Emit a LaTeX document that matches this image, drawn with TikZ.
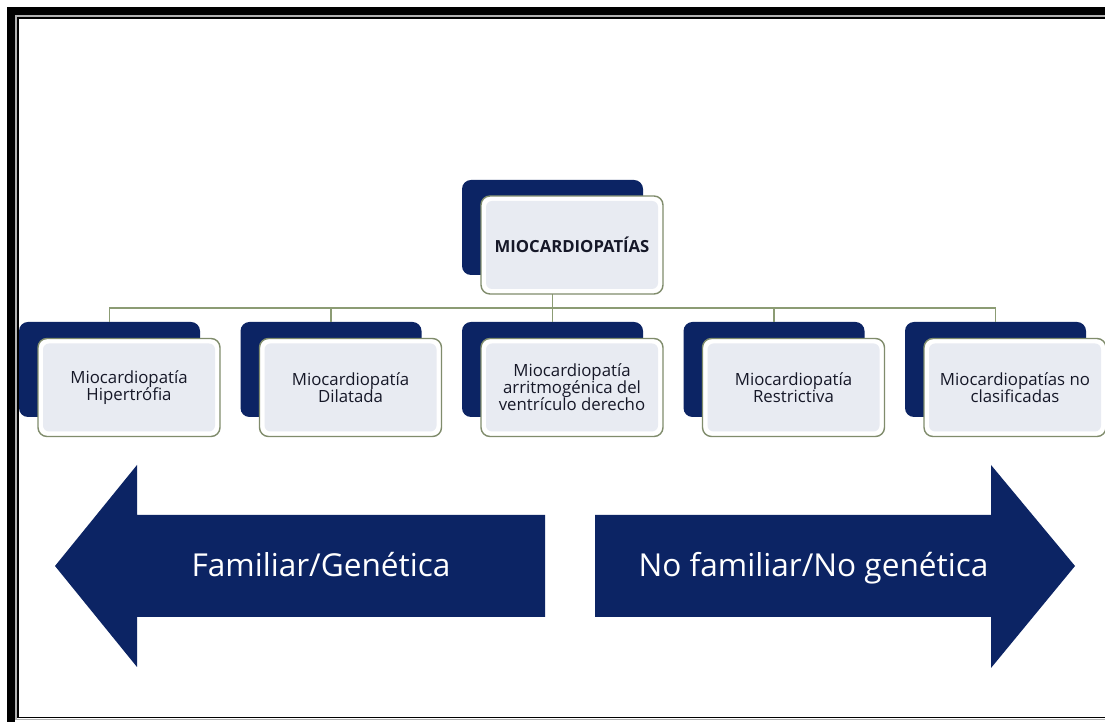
\documentclass[tikz,border=0pt]{standalone}
\usepackage{fontspec}
\setmainfont{Open Sans}
\usepackage{tikz}
\usetikzlibrary{positioning}

\definecolor{navy}{RGB}{12,36,100}
\definecolor{panel}{RGB}{232,235,242}
\definecolor{rim}{RGB}{128,140,108}
\definecolor{busline}{RGB}{140,156,116}
\definecolor{ink}{RGB}{22,24,40}

\begin{document}
\begin{tikzpicture}[x=1pt, y=1pt,
    level distance=142pt, sibling distance=221.5pt,
    backbox/.style={rectangle, rounded corners=9pt, fill=navy,
        minimum width=181pt, minimum height=95pt, inner sep=0pt, outer sep=0pt},
    frontbox/.style={rectangle, rounded corners=9pt, fill=white, draw=rim, line width=1.4pt,
        minimum width=182pt, minimum height=98pt, inner sep=2pt, outer sep=0pt,
        align=center, text=ink, font=\fontsize{16.8}{17}\selectfont,
        path picture={\fill[panel, rounded corners=6pt]
            ([shift={(5pt,5pt)}]path picture bounding box.south west) rectangle
            ([shift={(-5pt,-5pt)}]path picture bounding box.north east);}},
    arrowtext/.style={text=white, anchor=base, font=\fontsize{31.6}{36}\selectfont},
    edge from parent/.style={draw=busline, line width=1.8pt},
    edge from parent path={(\tikzparentnode.south) -- ++(0,-33) -| (\tikzchildnode.north)}]
    \useasboundingbox (0,0) rectangle (1105,722);
    \clip (0,0) rectangle (1105,722);
    \fill[white] (0,0) rectangle (1105,722);

    % page frame
    \draw[line width=8pt] (11,711) rectangle (1130,-20);
    \draw[gray!60, line width=1.5pt] (15.8,706.2) rectangle (1130,2.5);
    \draw[line width=1.5pt] (17.8,704.2) rectangle (1130,4.6);

    % hierarchy, back plates
    \node[backbox] (root) at (552.5,494.5) {}
        child { node[backbox] (hip) {} }
        child { node[backbox] (dil) {} }
        child { node[backbox] (arr) {} }
        child { node[backbox] (res) {} }
        child { node[backbox] (noc) {} };

    % front cards
    \node[frontbox, font=\fontsize{16.7}{17}\selectfont\bfseries] (froot)
        at ([shift={(19.5,-17.5)}]root.center) {MIOCARDIOPATÍAS};
    \node[frontbox] (fhip) at ([shift={(19.5,-18)}]hip.center) {Miocardiopatía\\Hipertrófia};
    \node[frontbox] (fdil) at ([shift={(19.5,-18)}]dil.center) {Miocardiopatía\\Dilatada};
    \node[frontbox] (farr) at ([shift={(19.5,-18)}]arr.center) {Miocardiopatía\\arritmogénica del\\ventrículo derecho};
    \node[frontbox] (fres) at ([shift={(19.5,-18)}]res.center) {Miocardiopatía\\Restrictiva};
    \node[frontbox] (fnoc) at ([shift={(19.5,-18)}]noc.center) {Miocardiopatías no\\clasificadas};

    % big arrows
    \fill[navy] (545,207) -- (137,207) -- (137,257) -- (55,156)
        -- (137,55) -- (137,105) -- (545,105) -- cycle;
    \fill[navy] (595,207) -- (991,207) -- (991,257) -- (1075,156)
        -- (991,54) -- (991,105) -- (595,105) -- cycle;
    \node[arrowtext] (fam) at (321,145) {Familiar/Genética};
    \node[arrowtext] (nofam) at (813.5,145) {No familiar/No genética};
\end{tikzpicture}
\end{document}
